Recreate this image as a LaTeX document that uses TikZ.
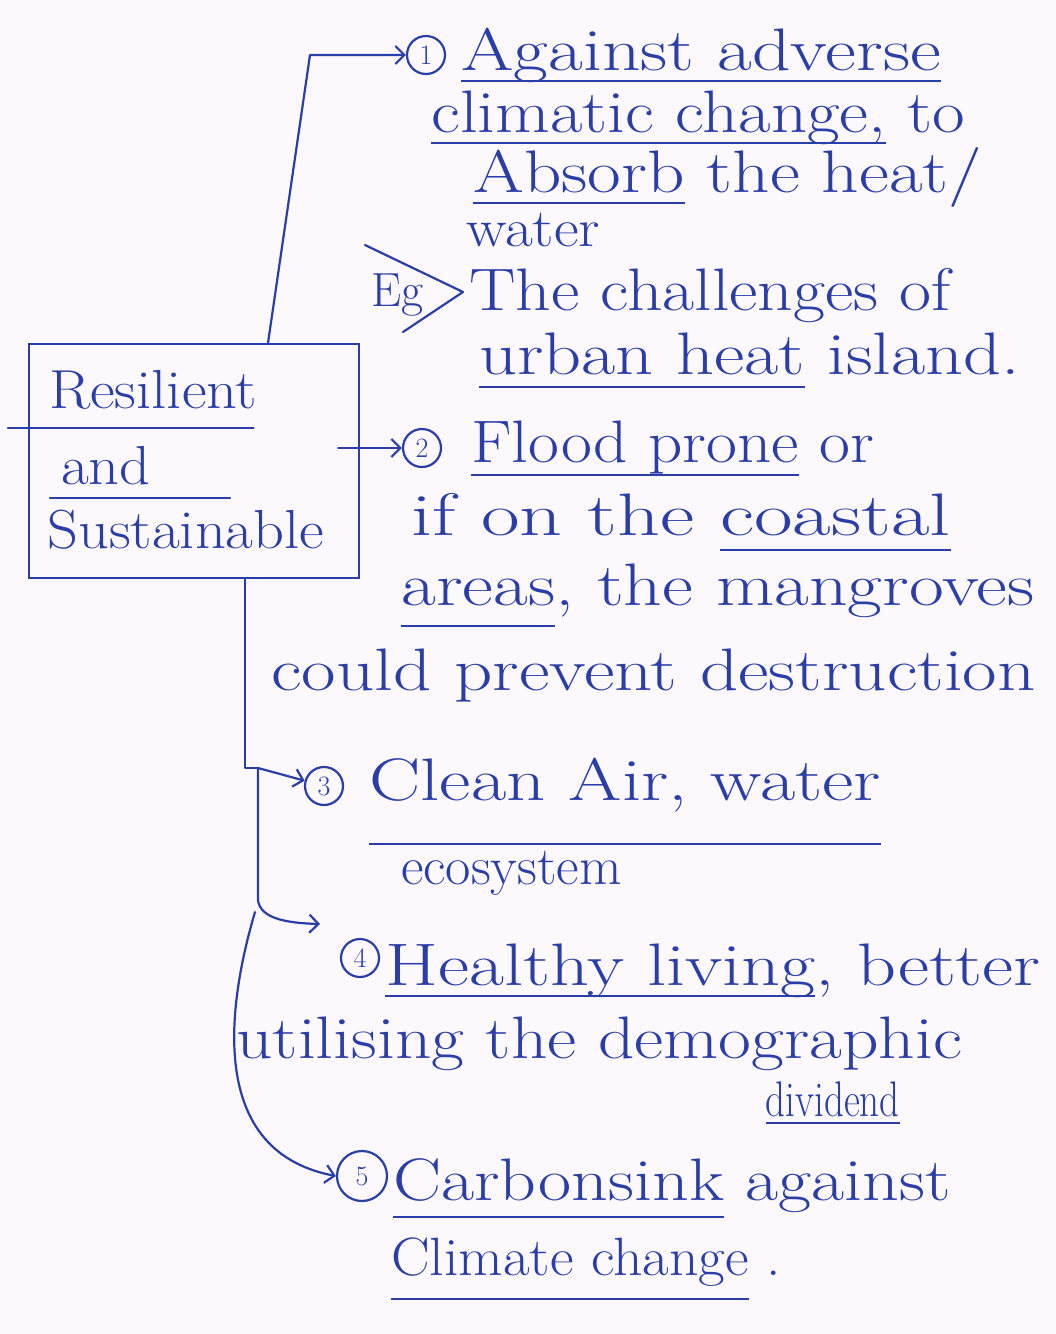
\documentclass[tikz,border=0pt]{standalone}
\usetikzlibrary{arrows.meta,calc}
\definecolor{ink}{RGB}{42,62,168}
\definecolor{paper}{RGB}{252,248,252}
% underline a stretch of text with a pen stroke a given depth below the baseline
\newcommand\ulw[2][13pt]{\leavevmode\setbox0=\hbox{#2}\rlap{\rule[-#1]{\wd0}{2.2pt}}\box0\relax}
\begin{document}
\begin{tikzpicture}[x=1pt,y=-1pt,
  line width=2.2pt, draw=ink,
  hand/.style={anchor=base west, inner sep=0pt, text=ink, transform shape,
    font=\fontsize{60}{70}\selectfont},
  small/.style={font=\fontsize{54}{62}\selectfont},
  boxtext/.style={anchor=base west, inner sep=0pt, text=ink, transform shape,
    xscale=1.1, font=\fontsize{55}{64}\selectfont},
  num/.style={circle, draw=ink, line width=2.2pt, inner sep=0pt,
    minimum size=38pt, text=ink, font=\fontsize{28}{28}\selectfont},
  link/.style={draw=ink, line width=2.2pt, line cap=round, line join=round,
    -{Straight Barb[length=9pt,width=18pt,line width=2.2pt]}},
  pen/.style={draw=ink, line width=2.2pt, line cap=round, line join=round}]

\fill[paper] (0,0) rectangle (1056,1334);
\useasboundingbox (0,0) rectangle (1056,1334);

% central box
\node[draw=ink, line width=2.2pt, anchor=north west, inner sep=0pt,
      minimum width=330pt, minimum height=234pt] (main) at (28,343) {};
\node[boxtext] (res) at (48,408) {Resilient};
\node[boxtext] (and) at (60,484) {and};
\node[boxtext] (sus) at (46,548) {Sustainable};
\draw[pen] ($(res.base west)+(-40,20)$) -- ($(res.base east)+(-5,20)$);
\draw[pen] ($(and.base west)+(-10,14)$) -- ++(180,0);

% numbered points
\node[num] (c1) at (426,55) {1};
\node[num] (c2) at (422,448) {2};
\node[num] (c3) at (324,786) {3};
\node[num] (c4) at (360,958) {4};
\node[num, minimum size=50pt] (c5) at (362,1176) {5};

% point 1
\node[hand, xscale=1.26] (t1) at (460,70) {\ulw[12pt]{Against adverse}};
\node[hand, xscale=1.18] (t2) at (430,132) {\ulw[12pt]{climatic change,} to};
\node[hand, xscale=1.22] (t3) at (472,192) {\ulw[12pt]{Absorb} the heat/};
\node[hand, small, xscale=1.12] (t4) at (465,246) {water};
\node[hand, font=\fontsize{48}{48}\selectfont] (eg) at (370,306) {Eg};
\draw[pen] (365,245) -- (463,292) -- (403,332);
\node[hand, xscale=1.16] (t5) at (468,310) {The challenges of};
\node[hand, xscale=1.24] (t6) at (478,374) {\ulw[14pt]{urban heat} island.};

% point 2
\node[hand, xscale=1.12] (t7) at (470,462) {\ulw[14pt]{Flood prone} or};
\node[hand, xscale=1.4] (t8) at (410,535) {if on the \ulw[16pt]{coastal}};
\node[hand, xscale=1.26] (t9) at (400,605) {\ulw[22pt]{areas}, the mangroves};
\node[hand, xscale=1.25] (t10) at (270,690) {could prevent destruction};

% point 3
\node[hand, xscale=1.28] (t11) at (368,800) {\ulw[45pt]{Clean Air, water}};
\node[hand, small, xscale=1.02] (t12) at (400,884) {ecosystem};

% point 4
\node[hand, xscale=1.27] (t13) at (384,985) {\ulw[12pt]{Healthy living}, better};
\node[hand, xscale=1.19] (t14) at (235,1058) {utilising the demographic};
\node[hand, font=\fontsize{50}{56}\selectfont, xscale=0.78] (t15) at (765,1116) {\ulw[8pt]{dividend}};

% point 5
\node[hand, xscale=1.2] (t16) at (392,1200) {\ulw[18pt]{Carbonsink} against};
\node[hand, small, xscale=1.07] (t17) at (390,1275) {\ulw[25pt]{Climate change} .};

% connectors
\coordinate (bend1) at (310,55);
\draw[link] ($(main.north west)+(240,0)$) -- (bend1) -- (c1);
\draw[link] ($(main.east|-c2)+(-22,0)$) -- (c2);
\coordinate (fork) at (258,768);
\draw[pen] ($(main.south west)+(217,0)$) |- (fork);
\draw[link] (fork) -- (c3);
\coordinate (tip4) at ($(c4.center)+(-40,-34)$);
\draw[link] (fork) -- (258,900) .. controls (260,918) and (285,923) .. (tip4);
\coordinate (src5) at (255,912);
\draw[link] (src5) .. controls (232,990) and (200,1150) .. (c5.west);
\end{tikzpicture}
\end{document}
